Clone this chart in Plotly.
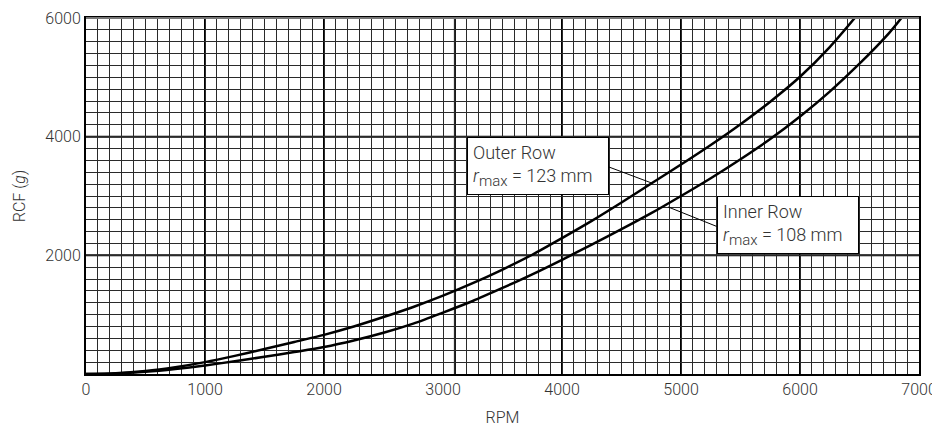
import plotly.graph_objects as go

# ---- data ----
rpm_outer = [0, 250, 500, 750, 1000, 1250, 1500, 1750, 2000, 2250, 2500, 2750, 3000,
             3250, 3500, 3750, 4000, 4250, 4500, 4750, 5000, 5250, 5500, 5750, 6000,
             6250, 6460]
rcf_outer = [0, 12, 50, 115, 200, 305, 420, 540, 660, 800, 960, 1130, 1320,
             1530, 1760, 2010, 2290, 2580, 2890, 3210, 3530, 3860, 4210, 4590, 5010,
             5510, 6000]

rpm_inner = [0, 250, 500, 750, 1000, 1250, 1500, 1750, 2000, 2250, 2500, 2750, 3000,
             3250, 3500, 3750, 4000, 4250, 4500, 4750, 5000, 5250, 5500, 5750, 6000,
             6250, 6500, 6750, 6852]
rcf_inner = [0, 10, 38, 85, 145, 215, 290, 370, 455, 565, 695, 850, 1035,
             1230, 1450, 1680, 1925, 2180, 2440, 2710, 3000, 3300, 3620, 3960, 4340,
             4760, 5230, 5750, 6000]

x_ticks = [0, 1000, 2000, 3000, 4000, 5000, 6000, 7000]
y_ticks = [2000, 4000, 6000]
major_x_lines = [1000, 2000, 3100, 4000, 5000, 6000]
major_y_lines = [2000, 4000]

SUB = '<sub><span style="font-size:15px">max</span></sub>'
outer_label = "Outer Row<br><i>r</i>" + SUB + " = 123 mm"
inner_label = "Inner Row<br><i>r</i>" + SUB + " = 108 mm"

FONT = "Roboto"
TXT = "#333333"

fig = go.Figure()
fig.add_trace(go.Scatter(x=rpm_outer, y=rcf_outer, mode="lines",
                         line=dict(color="black", width=2.5, shape="spline", smoothing=0.8),
                         showlegend=False, hoverinfo="skip"))
fig.add_trace(go.Scatter(x=rpm_inner, y=rcf_inner, mode="lines",
                         line=dict(color="black", width=2.5, shape="spline", smoothing=0.8),
                         showlegend=False, hoverinfo="skip"))

shapes = []
for v in major_x_lines:
    shapes.append(dict(type="line", xref="x", yref="y", x0=v, x1=v, y0=0, y1=6000,
                       line=dict(color="black", width=2), layer="below"))
for v in major_y_lines:
    shapes.append(dict(type="line", xref="x", yref="y", x0=0, x1=7000, y0=v, y1=v,
                       line=dict(color="black", width=2), layer="below"))
# top border drawn grey as in the original
shapes.append(dict(type="line", xref="paper", yref="paper", x0=0, x1=1, y0=1, y1=1,
                   line=dict(color="#777777", width=2)))
# leader lines
shapes.append(dict(type="line", xref="x", yref="y", x0=4394, y0=3489, x1=4753, y1=3219,
                   line=dict(color="black", width=1)))
shapes.append(dict(type="line", xref="x", yref="y", x0=4892, y0=2815, x1=5299, y1=2488,
                   line=dict(color="black", width=1)))

box_style = dict(xref="x", yref="y", xanchor="left", yanchor="top",
                 showarrow=False, align="left", valign="middle",
                 width=130, height=46,
                 bgcolor="white", bordercolor="black", borderwidth=1, borderpad=5,
                 font=dict(family=FONT, size=18, color=TXT, weight=300))
annots = [
    dict(x=3200, y=4000, text=outer_label, **box_style),
    dict(x=5300, y=3000, text=inner_label, **box_style),
]

# the page body adds an 8px margin, so the figure is sized to fit the window
fig.update_layout(
    width=932, height=419,
    margin=dict(l=78, r=21, t=10, b=53, autoexpand=False),
    paper_bgcolor="white", plot_bgcolor="white",
    font=dict(family=FONT, size=16, color=TXT, weight=300),
    shapes=shapes, annotations=annots,
    xaxis=dict(range=[0, 7000], tickvals=x_ticks, showgrid=False, zeroline=False,
               showline=True, linecolor="black", linewidth=2, mirror=True,
               ticks="", ticklen=0, automargin=False,
               minor=dict(dtick=100, tick0=0, showgrid=True, gridcolor="#2a2a2a", gridwidth=1),
               title=dict(text="RPM", standoff=17, font=dict(size=16)),
               tickfont=dict(size=16)),
    yaxis=dict(range=[0, 6000], tickvals=y_ticks, showgrid=False, zeroline=False,
               showline=True, linecolor="black", linewidth=2, mirror=True,
               ticks="", ticklen=0, automargin=False,
               minor=dict(dtick=200, tick0=0, showgrid=True, gridcolor="#2a2a2a", gridwidth=1),
               title=dict(text="RCF (<i>g</i>)", standoff=16, font=dict(size=16)),
               tickfont=dict(size=16)),
)

fig.write_html("out.html")
